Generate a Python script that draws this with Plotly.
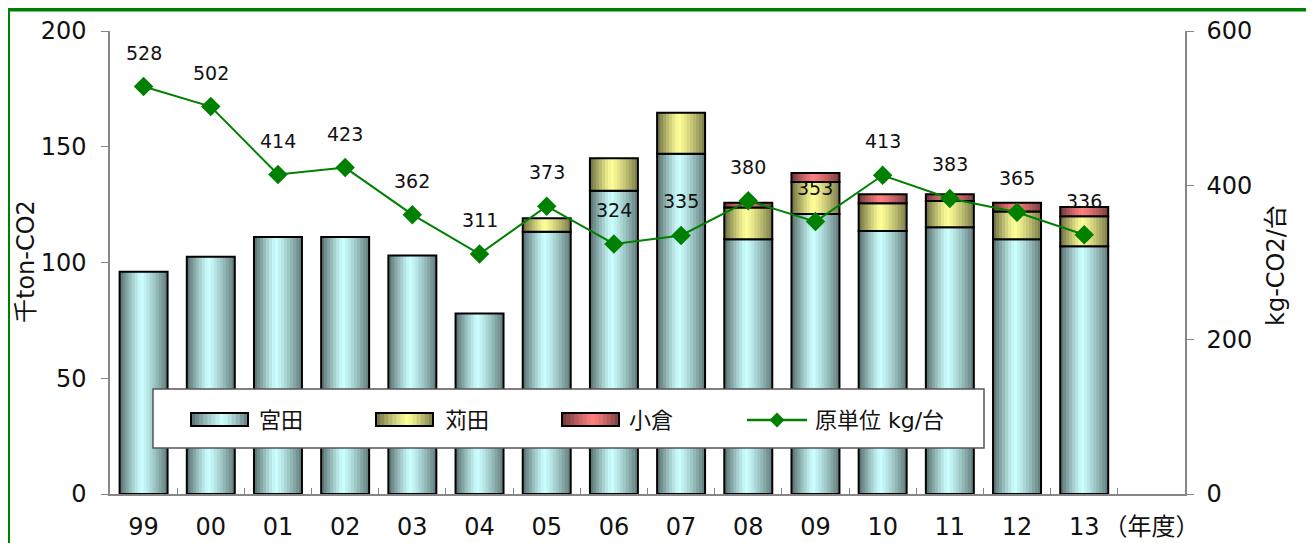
import plotly.graph_objects as go

# ---------------- data ----------------
years = ["99", "00", "01", "02", "03", "04", "05", "06", "07", "08", "09", "10", "11", "12", "13"]
x_labels = years + ["（年度）"]
miyata = [96, 102.5, 111, 111, 103, 78, 113.3, 131, 147, 110, 121, 113.6, 115.2, 110, 107]
kanda = [None, None, None, None, None, None, 5.8, 14, 17.7, 13.8, 13.8, 12, 11.4, 12, 13]
kokura = [None, None, None, None, None, None, None, None, None, 2, 3.9, 3.9, 2.9, 3.8, 4]
intensity = [528, 502, 414, 423, 362, 311, 373, 324, 335, 380, 353, 413, 383, 365, 336]
series_names = ["宮田", "苅田", "小倉"]
line_name = "原単位 kg/台"
y_title = "千ton-CO2"
y2_title = "kg-CO2/台"

# ---------------- geometry (reference pixel coords) ----------------
OFF = 8  # page body margin
W_PX, H_PX = 1314 - OFF, 543 - OFF
L, R, T, B = 110, 1185, 31, 494
PW, PH = R - L, B - T


def px_x(x):
    return (x - L) / PW


def px_y(y):
    return (B - y) / PH


GREEN = "#008000"
AXIS_GRAY = "#868686"
FONT_LAT = "DejaVu Sans, Noto Sans CJK JP, sans-serif"

BASES = [(204, 255, 255), (255, 255, 153), (255, 128, 128)]


def shade(base, t, peak=0.45):
    if t < peak:
        d = (peak - t) / peak
        f = 1 - 0.58 * d ** 1.2
    else:
        d = (t - peak) / (1 - peak)
        f = 1 - 0.52 * d ** 1.2
    return "rgb(%d,%d,%d)" % tuple(int(round(c * f)) for c in base)


fig = go.Figure()

BAR_W = 0.714
NSTRIP = 16
sw = BAR_W / NSTRIP


def add(a, b):
    return [(x or 0) + (y or 0) for x, y in zip(a, b)]


base_list = [[0] * len(years), miyata[:], add(miyata, kanda)]
val_list = [miyata, kanda, kokura]

for si, (vals, bases) in enumerate(zip(val_list, base_list)):
    xs = [yr for yr, v in zip(years, vals) if v is not None]
    ys = [v for v in vals if v is not None]
    bs = [b for b, v in zip(bases, vals) if v is not None]
    for k in range(NSTRIP):
        t = (k + 0.5) / NSTRIP
        left = -BAR_W / 2 + k * sw
        wid = sw * 1.35 if k < NSTRIP - 1 else sw
        fig.add_trace(go.Bar(
            x=xs, y=ys, base=bs, width=wid, offset=left,
            marker=dict(color=shade(BASES[si], t), line=dict(width=0)),
            showlegend=False, hoverinfo="skip", name=series_names[si]))
    fig.add_trace(go.Bar(
        x=xs, y=ys, base=bs, width=BAR_W, offset=-BAR_W / 2,
        marker=dict(color="rgba(0,0,0,0)", line=dict(color="black", width=2)),
        showlegend=False, name=series_names[si]))

fig.add_trace(go.Scatter(
    x=years, y=intensity, yaxis="y2", mode="lines+markers", name=line_name,
    line=dict(color=GREEN, width=2),
    marker=dict(symbol="diamond", size=15, color=GREEN),
    showlegend=False))

annotations = []
for i, v in enumerate(intensity):
    annotations.append(dict(x=i, y=v, xref="x", yref="y2", text=str(v), showarrow=False,
                            yshift=34, font=dict(size=19, color="#111", family=FONT_LAT)))

annotations.append(dict(x=px_x(26), y=px_y(262), xref="paper", yref="paper", text=y_title,
                        textangle=-90, showarrow=False, xanchor="center", yanchor="middle",
                        font=dict(size=24, color="#111", family=FONT_LAT)))
annotations.append(dict(x=px_x(1276), y=px_y(266), xref="paper", yref="paper", text=y2_title,
                        textangle=-90, showarrow=False, xanchor="center", yanchor="middle",
                        font=dict(size=24, color="#111", family=FONT_LAT)))

shapes = []
shapes.append(dict(type="rect", xref="paper", yref="paper", x0=px_x(8), x1=px_x(1340),
                   y0=px_y(570), y1=px_y(9.5), line=dict(color=GREEN, width=4), layer="above"))
shapes.append(dict(type="rect", xref="paper", yref="paper", x0=px_x(153), x1=px_x(984),
                   y0=px_y(448), y1=px_y(389), line=dict(color="#555", width=1.5),
                   fillcolor="white", layer="above"))

sw_pos = [(191, 248, 257), (376, 433, 443), (562, 619, 627)]
for si, (x0, x1, tx) in enumerate(sw_pos):
    n = 14
    step = (x1 - x0) / n
    for k in range(n):
        t = (k + 0.5) / n
        shapes.append(dict(type="rect", xref="paper", yref="paper",
                           x0=px_x(x0 + k * step), x1=px_x(x0 + (k + 1.3) * step if k < n - 1 else x1),
                           y0=px_y(426), y1=px_y(413), line=dict(width=0),
                           fillcolor=shade(BASES[si], t, 0.55), layer="above"))
    shapes.append(dict(type="rect", xref="paper", yref="paper", x0=px_x(x0), x1=px_x(x1),
                       y0=px_y(426), y1=px_y(413), line=dict(color="black", width=2), layer="above"))
    annotations.append(dict(x=px_x(tx), y=px_y(420), xref="paper", yref="paper", text=series_names[si],
                            xanchor="left", yanchor="middle", showarrow=False,
                            font=dict(size=22, color="#111", family=FONT_LAT)))

shapes.append(dict(type="line", xref="paper", yref="paper", x0=px_x(747), x1=px_x(807),
                   y0=px_y(420), y1=px_y(420), line=dict(color=GREEN, width=2.5), layer="above"))
cx, cy, hw = 777, 420, 7.5
shapes.append(dict(type="path", xref="paper", yref="paper",
                   path="M %f,%f L %f,%f L %f,%f L %f,%f Z" % (
                       px_x(cx - hw), px_y(cy), px_x(cx), px_y(cy - hw),
                       px_x(cx + hw), px_y(cy), px_x(cx), px_y(cy + hw)),
                   fillcolor=GREEN, line=dict(width=0), layer="above"))
annotations.append(dict(x=px_x(813), y=px_y(420), xref="paper", yref="paper", text=line_name,
                        xanchor="left", yanchor="middle", showarrow=False,
                        font=dict(size=22, color="#111", family=FONT_LAT)))

fig.update_layout(
    width=W_PX, height=H_PX,
    margin=dict(l=L - OFF, r=W_PX - (R - OFF), t=T - OFF, b=H_PX - (B - OFF), pad=0, autoexpand=False),
    paper_bgcolor="white", plot_bgcolor="white",
    barmode="overlay", showlegend=False,
    font=dict(family=FONT_LAT, color="#111"),
    xaxis=dict(type="category", categoryorder="array", categoryarray=x_labels,
               tickvals=x_labels, ticktext=x_labels, tickangle=0, automargin=False,
               range=[-0.5, len(x_labels) - 0.5], showline=True, linecolor=AXIS_GRAY, linewidth=1.5,
               ticks="inside", tickson="boundaries", ticklen=6, tickcolor=AXIS_GRAY,
               tickfont=dict(size=24, family=FONT_LAT, color="#111"), ticklabelstandoff=10,
               showgrid=False, zeroline=False),
    yaxis=dict(range=[0, 200], dtick=50, showline=True, linecolor=AXIS_GRAY, linewidth=1.5,
               ticks="outside", ticklen=7, tickcolor=AXIS_GRAY, showgrid=False, zeroline=False,
               automargin=False,
               tickfont=dict(size=24, family=FONT_LAT, color="#111"), ticklabelstandoff=10),
    yaxis2=dict(range=[0, 600], dtick=200, overlaying="y", side="right", showline=True,
                linecolor=AXIS_GRAY, linewidth=1.5, ticks="outside", ticklen=7, tickcolor=AXIS_GRAY,
                showgrid=False, zeroline=False, automargin=False,
                tickfont=dict(size=24, family=FONT_LAT, color="#111"), ticklabelstandoff=8),
    shapes=shapes, annotations=annotations,
)

fig.write_html("out.html")
